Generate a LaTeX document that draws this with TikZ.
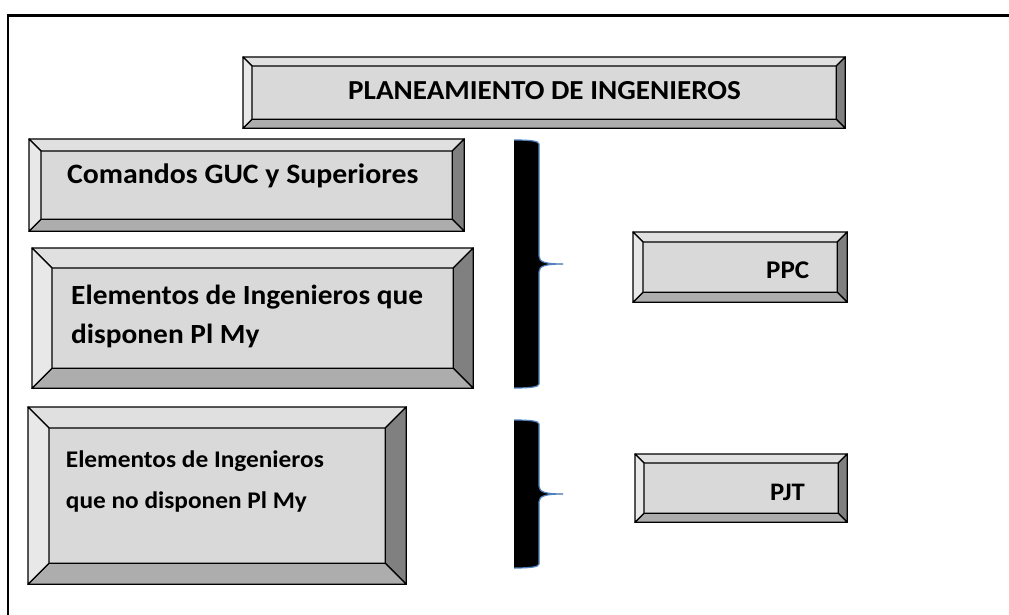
\documentclass[tikz,border=0pt]{standalone}
\usepackage{fontspec}
\usepackage{graphicx}
\setmainfont{Carlito}
\usetikzlibrary{calc}
\definecolor{face}{RGB}{217,217,217}
\definecolor{btop}{RGB}{224,224,224}
\definecolor{bleft}{RGB}{232,232,232}
\definecolor{bbot}{RGB}{173,173,173}
\definecolor{bright}{RGB}{128,128,128}
\definecolor{braceblue}{RGB}{79,129,189}
\tikzset{
  bevbox/.style={draw=black, line width=1.3pt, fill=face, inner sep=0pt, anchor=north west},
  bevtop/.style={fill=btop, draw=black, line width=1.3pt, line join=round},
  bevleft/.style={fill=bleft, draw=black, line width=1.3pt, line join=round},
  bevbot/.style={fill=bbot, draw=black, line width=1.3pt, line join=round},
  bevright/.style={fill=bright, draw=black, line width=1.3pt, line join=round},
  label text/.style={inner sep=0pt, anchor=base west, text=black},
  frame line/.style={draw=black, line width=2.4pt},
  brace fill/.style={fill=black},
  brace edge/.style={draw=braceblue, line width=1.2pt}
}
\newcommand\bev[2]{%
  \coordinate (#1-a) at (#1.north west);
  \coordinate (#1-b) at (#1.north east);
  \coordinate (#1-c) at (#1.south east);
  \coordinate (#1-d) at (#1.south west);
  \coordinate (#1-A) at ($(#1-a)+(#2,#2)$);
  \coordinate (#1-B) at ($(#1-b)+(-#2,#2)$);
  \coordinate (#1-C) at ($(#1-c)+(-#2,-#2)$);
  \coordinate (#1-D) at ($(#1-d)+(#2,-#2)$);
  \filldraw[bevtop] (#1-a)--(#1-b)--(#1-B)--(#1-A)--cycle;
  \filldraw[bevright] (#1-b)--(#1-c)--(#1-C)--(#1-B)--cycle;
  \filldraw[bevbot] (#1-c)--(#1-d)--(#1-D)--(#1-C)--cycle;
  \filldraw[bevleft] (#1-d)--(#1-a)--(#1-A)--(#1-D)--cycle;
}
\newcommand\btext[4]{\scalebox{#1}[1]{\fontsize{#2}{#3}\selectfont\bfseries\begin{tabular}[t]{@{}l@{}}#4\end{tabular}}}
\newcommand\sidebrace[4]{% name, top, tip y, bottom
  \coordinate (#1) at (539,#3);
  \fill[brace fill] (514,#2) .. controls (530,#2) and (539,{#2+1}) .. (539,{#2+4})
     -- (539,{#3-8}) .. controls (539,{#3-2}) and (545,#3) .. (563,#3)
     .. controls (545,#3) and (539,{#3+2}) .. (539,{#3+8})
     -- (539,{#4-4}) .. controls (539,{#4-1}) and (530,#4) .. (514,#4) -- cycle;
  \draw[brace edge] (514,#2) .. controls (530,#2) and (539,{#2+1}) .. (539,{#2+4})
     -- (539,{#3-8}) .. controls (539,{#3-2}) and (545,#3) .. (563,#3)
     .. controls (545,#3) and (539,{#3+2}) .. (539,{#3+8})
     -- (539,{#4-4}) .. controls (539,{#4-1}) and (530,#4) .. (514,#4);
}
\begin{document}
\begin{tikzpicture}[x=1pt,y=-1pt]
\useasboundingbox (0,0) rectangle (1009,615);
\fill[white] (0,0) rectangle (1009,615);
\draw[frame line] (1020,15.5) -- (8,15.5) -- (8,625);

% boxes
\node[bevbox, minimum width=601pt, minimum height=70pt] (title) at (243,57) {};
\bev{title}{9}
\node[bevbox, minimum width=434pt, minimum height=91pt] (guc) at (29,139) {};
\bev{guc}{12}
\node[bevbox, minimum width=440pt, minimum height=139pt] (pm) at (32,248) {};
\bev{pm}{20}
\node[bevbox, minimum width=377pt, minimum height=176pt] (npm) at (28,407) {};
\bev{npm}{21}
\node[bevbox, minimum width=213pt, minimum height=69pt] (ppc) at (633,232) {};
\bev{ppc}{10}
\node[bevbox, minimum width=211pt, minimum height=67pt] (pjt) at (635,454) {};
\bev{pjt}{9}

% texts
\node[label text, anchor=base] (title-t) at (544.5,100) {\btext{1.06}{27.5}{30}{PLANEAMIENTO DE INGENIEROS}};
\node[label text] (guc-t) at (67,183) {\btext{1.06}{28.1}{30}{Comandos GUC y Superiores}};
\node[label text] (pm-t) at (71,304.3) {\btext{1.06}{27.7}{39}{Elementos de Ingenieros que\\disponen Pl My}};
\node[label text] (npm-t) at (65.7,467.3) {\btext{1.06}{23.9}{41}{Elementos de Ingenieros\\que no disponen Pl My}};
\node[label text] (ppc-t) at (766,278) {\btext{1.06}{25.5}{30}{PPC}};
\node[label text] (pjt-t) at (770,500.7) {\btext{1.06}{25.2}{30}{PJT}};

% braces
\sidebrace{br1}{140}{264}{388}
\sidebrace{br2}{420}{494}{568}
\end{tikzpicture}
\end{document}
